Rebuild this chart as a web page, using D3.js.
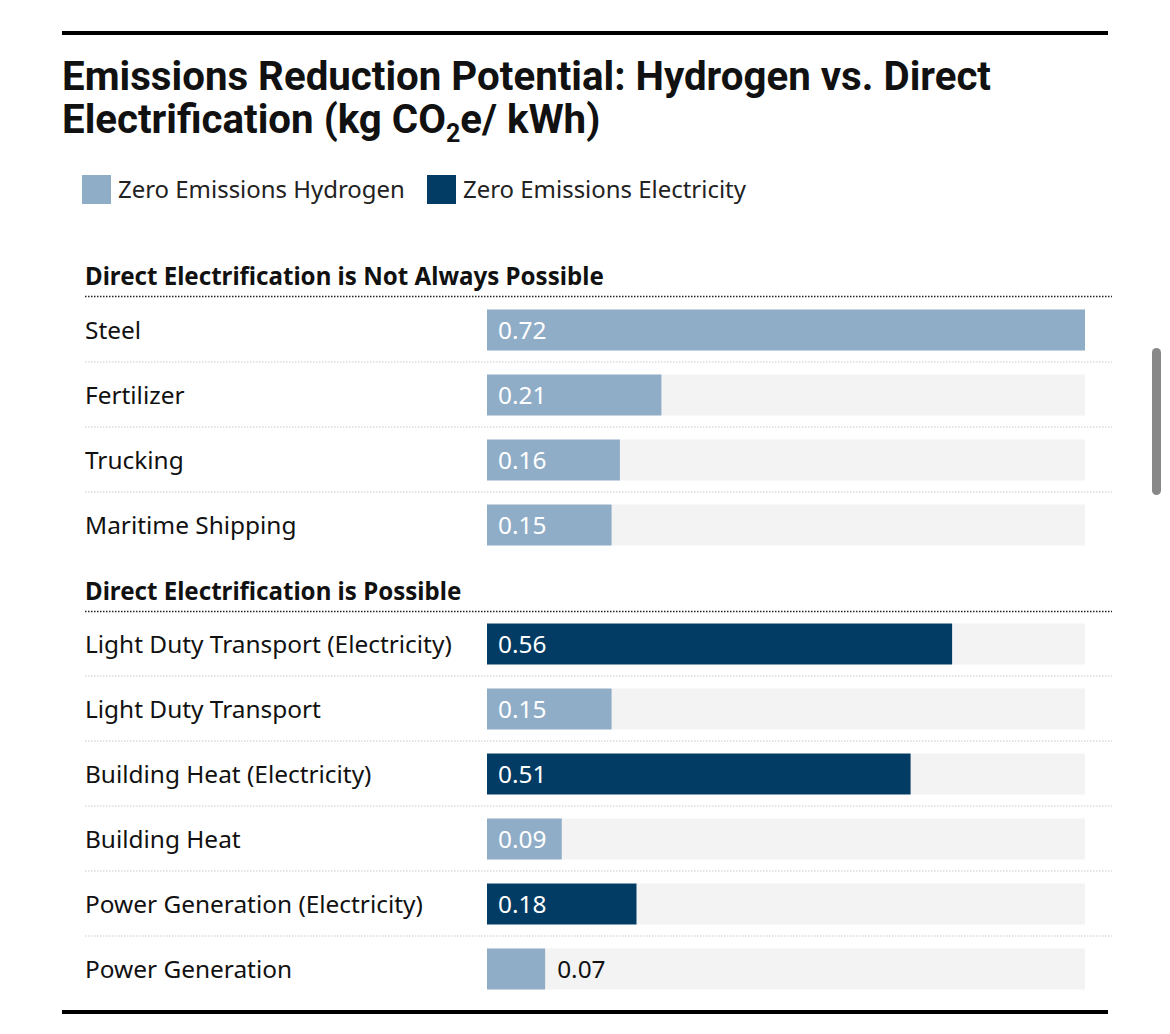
<!DOCTYPE html>
<html><head><meta charset="utf-8">
<script src="https://cdn.jsdelivr.net/npm/d3@7"></script>
<style>body{margin:0;background:#fff;}svg{display:block;}</style>
</head><body>
<svg id="c" width="1170" height="1034"></svg>
<script>
const legendLabels = ["Zero Emissions Hydrogen", "Zero Emissions Electricity"];
const groupTitles = ["Direct Electrification is Not Always Possible", "Direct Electrification is Possible"];
const group1Categories = ["Steel", "Fertilizer", "Trucking", "Maritime Shipping"];
const group1Values = [0.72, 0.21, 0.16, 0.15];
const group1Series = ["H", "H", "H", "H"];
const group2Categories = ["Light Duty Transport (Electricity)", "Light Duty Transport", "Building Heat (Electricity)", "Building Heat", "Power Generation (Electricity)", "Power Generation"];
const group2Values = [0.56, 0.15, 0.51, 0.09, 0.18, 0.07];
const group2Series = ["E", "H", "E", "H", "E", "H"];

const colH = "#8fadc7", colE = "#023b63", bgCol = "#f3f3f3";
const svg = d3.select("#c");
const titleFont = "Roboto, 'DejaVu Sans', sans-serif";
const bodyFont = "'Noto Sans', 'Open Sans', sans-serif";

function fitSize(text, font, weight, targetW) {
  const t = svg.append("text").attr("font-family", font).attr("font-weight", weight).attr("font-size", 100).text(text);
  const w = t.node().getComputedTextLength(); t.remove();
  return 100 * targetW / w;
}

// top and bottom rules
svg.append("rect").attr("x", 62).attr("y", 31).attr("width", 1046).attr("height", 4).attr("fill", "#000");
svg.append("rect").attr("x", 62).attr("y", 1010).attr("width", 1046).attr("height", 4).attr("fill", "#000");

// title
const tSize = fitSize("Emissions Reduction Potential: Hydrogen vs. Direct", titleFont, 700, 929);
svg.append("text").attr("x", 62).attr("y", 90).attr("font-family", titleFont).attr("font-weight", 700)
  .attr("font-size", tSize).attr("fill", "#111").text("Emissions Reduction Potential: Hydrogen vs. Direct");
const t2 = svg.append("text").attr("x", 62).attr("y", 133).attr("font-family", titleFont).attr("font-weight", 700)
  .attr("font-size", tSize).attr("fill", "#111");
t2.append("tspan").text("Electrification (kg CO");
t2.append("tspan").attr("dy", 9).attr("font-size", tSize * 0.62).text("2");
t2.append("tspan").attr("dy", -9).text("e/ kWh)");

// legend
const lgSize = fitSize(legendLabels[0], bodyFont, 400, 287);
const lgX = [82, 427];
legendLabels.forEach((l, i) => {
  svg.append("rect").attr("x", lgX[i]).attr("y", 175).attr("width", 29).attr("height", 29).attr("fill", i === 0 ? colH : colE);
  svg.append("text").attr("x", lgX[i] + 36).attr("y", 198).attr("font-family", bodyFont).attr("font-size", lgSize)
    .attr("fill", "#222").text(l);
});

const labelSize = fitSize("Light Duty Transport (Electricity)", bodyFont, 400, 367);
const headSize = fitSize(groupTitles[0], bodyFont, 700, 519);

const x = d3.scaleLinear().domain([0, 0.72]).range([487, 1085]);

function drawGroup(title, cats, vals, series, headY, firstRowY) {
  svg.append("text").attr("x", 85).attr("y", headY).attr("font-family", bodyFont).attr("font-weight", 700)
    .attr("font-size", headSize).attr("fill", "#111").text(title);
  svg.append("line").attr("x1", 85).attr("x2", 1112).attr("y1", headY + 11.5).attr("y2", headY + 11.5)
    .attr("stroke", "#222").attr("stroke-width", 1.5).attr("stroke-dasharray", "1.5,1.5");
  const y = d3.scaleBand().domain(cats).range([firstRowY - 32.5, firstRowY - 32.5 + 65 * cats.length]).paddingInner(0.37).paddingOuter(0.185);
  cats.forEach((c, i) => {
    const yc = y(c) + y.bandwidth() / 2;
    if (i < cats.length - 1) {
      svg.append("line").attr("x1", 85).attr("x2", 1112).attr("y1", yc + 32).attr("y2", yc + 32)
        .attr("stroke", "#c8c8c8").attr("stroke-width", 1).attr("stroke-dasharray", "1.5,1.5");
    }
    svg.append("text").attr("x", 85).attr("y", yc).attr("dy", "0.36em").attr("font-family", bodyFont)
      .attr("font-size", labelSize).attr("fill", "#111").text(c);
    svg.append("rect").attr("x", x(0)).attr("y", y(c)).attr("width", x(0.72) - x(0)).attr("height", y.bandwidth()).attr("fill", bgCol);
    svg.append("rect").attr("x", x(0)).attr("y", y(c)).attr("width", x(vals[i]) - x(0)).attr("height", y.bandwidth())
      .attr("fill", series[i] === "E" ? colE : colH);
    const inside = x(vals[i]) - x(0) > 65;
    svg.append("text").attr("x", inside ? x(0) + 11 : x(vals[i]) + 12).attr("y", yc).attr("dy", "0.36em")
      .attr("font-family", bodyFont).attr("font-size", labelSize).attr("fill", inside ? "#fff" : "#111")
      .text(vals[i].toFixed(2));
  });
}
drawGroup(groupTitles[0], group1Categories, group1Values, group1Series, 285, 330);
drawGroup(groupTitles[1], group2Categories, group2Values, group2Series, 600, 644);

// scrollbar indicator
svg.append("rect").attr("x", 1152).attr("y", 348).attr("width", 9).attr("height", 147).attr("rx", 4.5).attr("fill", "#888");
</script>
</body></html>
